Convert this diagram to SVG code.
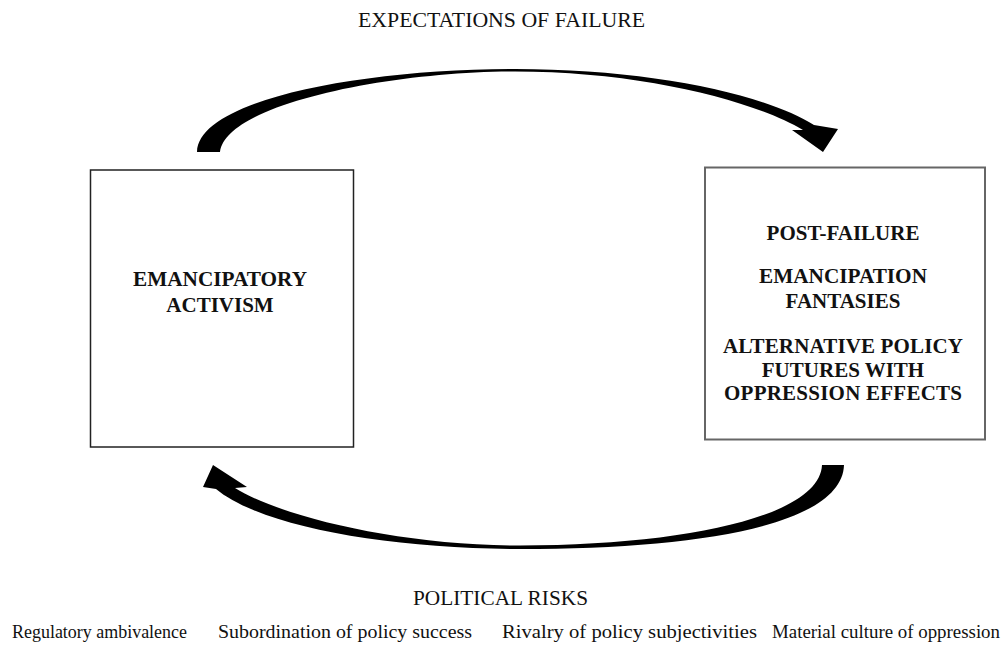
<svg xmlns="http://www.w3.org/2000/svg" width="1005" height="650" viewBox="0 0 1005 650">
<style>
.t{font-family:"Liberation Serif","Times New Roman",Tinos,"DejaVu Serif",serif;fill:#111;}
.b{font-weight:bold;font-size:21px;text-anchor:middle;}
.r{font-size:21px;}
.s{font-size:19px;}
.box{fill:#fff;}
.arc{fill:#000;}
</style>
<rect width="1005" height="650" fill="#fff"/>
<text class="t r" x="358" y="27" textLength="287" lengthAdjust="spacingAndGlyphs">EXPECTATIONS OF FAILURE</text>
<g id="connectors">
<path id="arc-top" class="arc" d="M197,152 C198,100 360,69 515,69 C650,69 765,94 814,125 L838,129 L823,152 L792,130 L803,130 C752,100 640,71.5 515,71.5 C390,71.5 226,104 220,152 Z"/>
<path id="arc-bottom" class="arc" d="M844,465 C842,525 700,549 520,549 C390,549 262,527 216,489 L203,487 L213,465 L247,487 L235,488 C282,517 400,545.5 520,545.5 C690,545.5 820,515 822,465 Z"/>
</g>
<g id="node-activism">
<rect class="box" x="90.5" y="170" width="263" height="277" stroke="#222" stroke-width="1.5"/>
<text class="t b" x="220" y="286" textLength="174" lengthAdjust="spacingAndGlyphs">EMANCIPATORY</text>
<text class="t b" x="220" y="312">ACTIVISM</text>
</g>
<g id="node-postfailure">
<rect class="box" x="705" y="167.5" width="280" height="272" stroke="#666" stroke-width="2"/>
<text class="t b" x="843" y="240">POST-FAILURE</text>
<text class="t b" x="843" y="283" textLength="168" lengthAdjust="spacingAndGlyphs">EMANCIPATION</text>
<text class="t b" x="843" y="308">FANTASIES</text>
<text class="t b" x="843" y="353" textLength="240" lengthAdjust="spacing">ALTERNATIVE POLICY</text>
<text class="t b" x="843" y="377">FUTURES WITH</text>
<text class="t b" x="843" y="400" textLength="238" lengthAdjust="spacing">OPPRESSION EFFECTS</text>
</g>
<text class="t r" x="413" y="605" textLength="175" lengthAdjust="spacingAndGlyphs">POLITICAL RISKS</text>
<g id="risks">
<text class="t s" x="12" y="638" textLength="175" lengthAdjust="spacingAndGlyphs">Regulatory ambivalence</text>
<text class="t s" x="218" y="638" textLength="254" lengthAdjust="spacingAndGlyphs">Subordination of policy success</text>
<text class="t s" x="502" y="638" textLength="255" lengthAdjust="spacingAndGlyphs">Rivalry of policy subjectivities</text>
<text class="t s" x="772" y="638" textLength="228" lengthAdjust="spacingAndGlyphs">Material culture of oppression</text>
</g>
</svg>
